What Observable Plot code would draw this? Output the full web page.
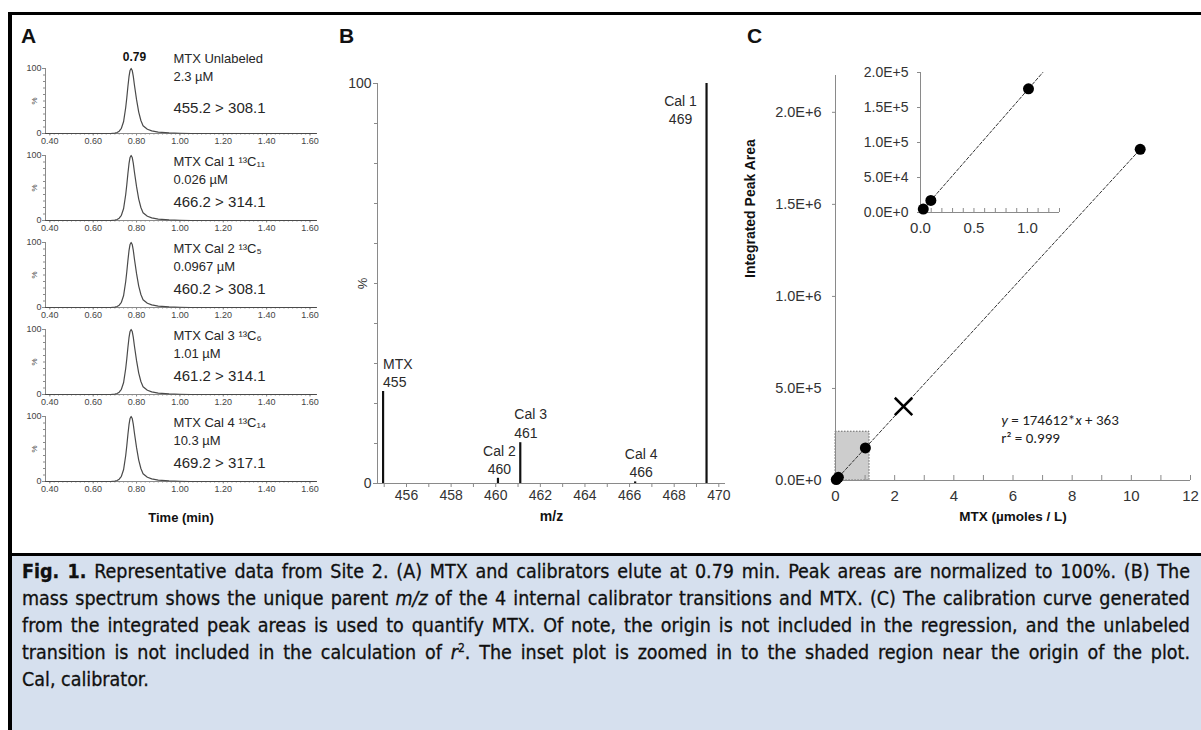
<!DOCTYPE html>
<html>
<head>
<meta charset="utf-8">
<script src="https://cdn.jsdelivr.net/npm/d3@7"></script>
<script src="https://cdn.jsdelivr.net/npm/@observablehq/plot@0.6"></script>
<style>
  html, body { margin: 0; padding: 0; background: #fff; }
  #fig { position: relative; width: 1201px; height: 730px; overflow: hidden; background: #fff; }
  .bar { position: absolute; background: #000; }
  .letter { position: absolute; font: bold 21px "Liberation Sans", Arial, sans-serif; line-height: 21px; color: #111; }
  #caption { position: absolute; left: 12px; top: 556px; width: 1189px; height: 174px; background: #d6e0ee; }
  #caption .line { position: absolute; left: 10px; font-family: "DejaVu Sans Condensed", "DejaVu Sans", sans-serif; font-stretch: condensed; font-size: 19.5px; color: #101010; white-space: nowrap; line-height: 27px; -webkit-text-stroke: 0.3px #101010; }
  #caption b { font-weight: bold; }
</style>
</head>
<body>
<div id="fig">
  <div class="bar" style="left:8px;top:12px;width:1193px;height:3px;"></div>
  <div class="bar" style="left:8px;top:12px;width:4px;height:718px;"></div>
  <div class="bar" style="left:8px;top:553px;width:1193px;height:3px;"></div>
  <div class="letter" style="left:21px;top:25px;">A</div>
  <div class="letter" style="left:339px;top:25px;">B</div>
  <div class="letter" style="left:747px;top:25px;">C</div>
  <div id="caption">
    <div class="line" style="top:2px;"><b>Fig. 1.</b> Representative data from Site 2. (A) MTX and calibrators elute at 0.79 min. Peak areas are normalized to 100%. (B) The</div>
    <div class="line" style="top:29px;">mass spectrum shows the unique parent <i>m/z</i> of the 4 internal calibrator transitions and MTX. (C) The calibration curve generated</div>
    <div class="line" style="top:56px;">from the integrated peak areas is used to quantify MTX. Of note, the origin is not included in the regression, and the unlabeled</div>
    <div class="line" style="top:83px;">transition is not included in the calculation of <i>r</i><sup style="font-size:12px;line-height:0;">2</sup>. The inset plot is zoomed in to the shaded region near the origin of the plot.</div>
    <div class="line last" style="top:110px;">Cal, calibrator.</div>
  </div>
</div>
<script>
// ================= DATA =================
// Panel A: chromatogram peak (relative intensity, %) vs retention time (min)
const chromTimes = [0.38, 0.68, 0.70, 0.71, 0.72, 0.73, 0.74, 0.75, 0.755, 0.76, 0.765, 0.77, 0.775, 0.78, 0.785, 0.79, 0.80, 0.81, 0.82, 0.83, 0.85, 0.87, 0.90, 0.95, 1.00, 1.05, 1.63];
const chromPct   = [0,    0,    0.5,  1.5,  3.5,  8,    18,   40,   55,    72,   87,    97,   100,   97,   88,    75,   52,   33,   20,   12,   6.5,  4,    2.2,  1,    0.4,  0,    0];
const chromNames = ["MTX Unlabeled", "MTX Cal 1 \u00B9\u00B3C\u2081\u2081", "MTX Cal 2 \u00B9\u00B3C\u2085", "MTX Cal 3 \u00B9\u00B3C\u2086", "MTX Cal 4 \u00B9\u00B3C\u2081\u2084"];
const chromConc = ["2.3 \u00B5M", "0.026 \u00B5M", "0.0967 \u00B5M", "1.01 \u00B5M", "10.3 \u00B5M"];
const chromTransitions = ["455.2 > 308.1", "466.2 > 314.1", "460.2 > 308.1", "461.2 > 314.1", "469.2 > 317.1"];
const apexTime = 0.79;
const timeTicks = [0.40, 0.60, 0.80, 1.00, 1.20, 1.40, 1.60];

// Panel B: mass spectrum (peak positions as drawn, relative intensity %)
const specNames = ["MTX", "Cal 2", "Cal 3", "Cal 4", "Cal 1"];
const specNominal = ["455", "460", "461", "466", "469"];
const specMz = [454.95, 460.1, 461.1, 466.25, 469.45];
const specPct = [23, 1.3, 10.2, 0.4, 100];
const mzTicks = [456, 458, 460, 462, 464, 466, 468, 470];

// Panel C: calibration curve
const calConc = [0.026, 0.0967, 1.01, 10.3];
const calArea = [4900, 17300, 176700, 1799000];
const unlabeledConc = [2.3];
const unlabeledArea = [402000];
const fitSlope = 174612;
const fitIntercept = 363;
const rSquared = 0.999;
const fitEnds = [0, 10.3];
const insetFitEnds = [0, 1.143];
const areaTicks = [0, 5e5, 1e6, 1.5e6, 2e6];
const concTicks = [0, 2, 4, 6, 8, 10, 12];
const insetAreaTicks = [0, 5e4, 1e5, 1.5e5, 2e5];
const insetConcTicks = [0, 0.5, 1.0];
const shadedConc = [0, 1.15];
const shadedArea = [0, 2.65e5];

// ================= STYLE / LAYOUT =================
const fig = document.getElementById("fig");
const axisGrey = "#8a8a8a";
const textDark = "#262626";
const sansFont = "'Liberation Sans', Arial, Helvetica, sans-serif";
const narrowFont = "'Liberation Sans Narrow', 'Arial Narrow', 'Liberation Sans', sans-serif";
const eqFont = "Carlito, Lato, 'Open Sans', sans-serif";
const svgStyle = {background: "transparent", overflow: "visible", fontFamily: sansFont, color: textDark, maxWidth: "none"};
const sci = d => d3.format(".1e")(d).replace("e", "E");

function place(svg, left, top) {
  svg.style.position = "absolute";
  svg.style.left = left + "px";
  svg.style.top = top + "px";
  svg.style.maxWidth = "none";
  fig.appendChild(svg);
  return svg;
}

// ================= PANEL A =================
const chromData = chromTimes.map((t, j) => ({t, p: chromPct[j]}));
const aTops = [68, 155, 242, 329, 416];
const aPlotH = 65, aMT = 40, aMB = 50;
const aXDomain = [0.38, 1.63];
const aLabelX = 0.97;
const aLabelDy = [[-10, 8, 40], [6, 24, 47], [6, 24, 47], [6, 24, 47], [6, 24, 47]];

chromNames.forEach((name, i) => {
  const marks = [
    Plot.ruleX([aXDomain[0]], {y1: 0, y2: 100, stroke: axisGrey}),
    Plot.ruleY([0], {x1: aXDomain[0], x2: aXDomain[1], stroke: axisGrey}),
    Plot.axisY({ticks: d3.range(10, 100, 10), tickSize: 2, fill: "none", stroke: axisGrey, label: null}),
    Plot.axisY({ticks: [0, 100], tickSize: 3, tickPadding: 1, fontSize: 9, fill: "#444", stroke: axisGrey, label: null, tickFormat: d => String(d)}),
    Plot.axisX({ticks: d3.range(0.40, 1.6001, 0.02), tickSize: 1.5, fill: "none", stroke: axisGrey, label: null}),
    Plot.axisX({ticks: timeTicks, tickSize: 2.5, tickPadding: 1.5, tickFormat: d3.format(".2f"), fontSize: 9, fontFamily: narrowFont, fill: "#444", stroke: axisGrey, label: null}),
    Plot.text(["%"], {x: aXDomain[0], y: 50, dx: -11, rotate: -90, fontSize: 8, fill: "#444"}),
    Plot.line(chromData, {x: "t", y: "p", stroke: "#4a4a4a", strokeWidth: 1.2}),
    Plot.text([name], {x: aLabelX, y: 100, dy: aLabelDy[i][0], textAnchor: "start", fontSize: 13, fill: textDark}),
    Plot.text([chromConc[i]], {x: aLabelX, y: 100, dy: aLabelDy[i][1], textAnchor: "start", fontSize: 13, fill: textDark}),
    Plot.text([chromTransitions[i]], {x: aLabelX, y: 100, dy: aLabelDy[i][2], textAnchor: "start", fontSize: 15, fill: textDark})
  ];
  if (i === 0) marks.push(Plot.text([apexTime.toFixed(2)], {x: apexTime, y: 100, dy: -11, fontWeight: "bold", fontSize: 12, fill: "#111"}));
  if (i === chromNames.length - 1) marks.push(Plot.text(["Time (min)"], {frameAnchor: "bottom", dy: 40, fontWeight: "bold", fontSize: 13, fontFamily: narrowFont, fill: "#111"}));
  const p = Plot.plot({
    width: 330, height: aMT + aPlotH + aMB,
    marginLeft: 45, marginRight: 14, marginTop: aMT, marginBottom: aMB,
    x: {domain: aXDomain, axis: null, label: null},
    y: {domain: [0, 100], axis: null, label: null},
    style: svgStyle,
    marks
  });
  place(p, 0, aTops[i] - aMT);
});

// ================= PANEL B =================
const specData = specMz.map((mz, j) => ({mz, pct: specPct[j], name: specNames[j], nominal: specNominal[j]}));
const bXDomain = [454.7, 470.3];
const specLabelLayout = {
  "MTX":   {textAnchor: "start",  dx: 0,   dy: -19.5},
  "Cal 2": {textAnchor: "middle", dx: 1.5, dy: -19},
  "Cal 3": {textAnchor: "start",  dx: -6,  dy: -20},
  "Cal 4": {textAnchor: "middle", dx: 6,   dy: -19.5},
  "Cal 1": {textAnchor: "middle", dx: -26, dy: 26}
};
const bMarks = [
  Plot.ruleX([bXDomain[0]], {y1: 0, y2: 100, stroke: axisGrey}),
  Plot.ruleY([0], {x1: bXDomain[0], x2: bXDomain[1], stroke: axisGrey}),
  Plot.axisY({ticks: d3.range(10, 100, 10), tickSize: 3, fill: "none", stroke: axisGrey, label: null}),
  Plot.axisY({ticks: [0, 100], tickSize: 4, tickPadding: 2, fontSize: 14, fill: "#333", stroke: axisGrey, label: null, tickFormat: d => String(d)}),
  Plot.axisX({ticks: d3.range(455, 471, 1), tickSize: 4, fill: "none", stroke: axisGrey, label: null}),
  Plot.axisX({ticks: mzTicks, tickSize: 0, tickPadding: 7, fontSize: 14, fill: "#333", label: null, tickFormat: d => String(d)}),
  Plot.text(["%"], {x: bXDomain[0], y: 50, dx: -15, rotate: -90, fontSize: 13, fill: "#333"}),
  Plot.ruleX(specData, {x: "mz", y1: 0, y2: "pct", stroke: "#111", strokeWidth: 2.2}),
  ...specData.map(d => Plot.text([d], {
    x: "mz", y: "pct", text: e => e.name + "\n" + e.nominal,
    lineHeight: 1.3, fontSize: 14, fill: "#2a2a2a",
    ...specLabelLayout[d.name]
  })),
  Plot.text(["m/z"], {frameAnchor: "bottom", dy: 37, fontWeight: "bold", fontSize: 14, fontFamily: narrowFont, fill: "#111"})
];
place(Plot.plot({
  width: 420, height: 473,
  marginLeft: 47, marginRight: 25, marginTop: 23, marginBottom: 50,
  x: {domain: bXDomain, axis: null, label: null},
  y: {domain: [0, 100], axis: null, label: null},
  style: svgStyle,
  marks: bMarks
}), 330, 60);

// ================= PANEL C (main) =================
const calData = calConc.map((c, j) => ({c, a: calArea[j]}));
const unlabData = unlabeledConc.map((c, j) => ({c, a: unlabeledArea[j]}));
const fitLine = fitEnds.map(c => ({c, a: fitSlope * c + fitIntercept}));
const insetFitLine = insetFitEnds.map(c => ({c, a: fitSlope * c + fitIntercept}));
const eqText = `y = ${fitSlope}*x + ${fitIntercept}`;
const r2Text = `r\u00B2 = ${rSquared}`;

const cMarks = [
  Plot.rect([{x1: shadedConc[0], x2: shadedConc[1], y1: shadedArea[0], y2: shadedArea[1]}], {x1: "x1", x2: "x2", y1: "y1", y2: "y2", fill: "#cdcdcd", stroke: "#666", strokeDasharray: "1.5,1.5", strokeWidth: 1}),
  Plot.ruleX([0], {y1: 0, y2: 2.2e6, stroke: axisGrey}),
  Plot.ruleY([0], {x1: 0, x2: 12, stroke: axisGrey}),
  Plot.axisY({ticks: areaTicks, tickSize: 3, tickPadding: 11, tickFormat: sci, fontSize: 14.5, fill: "#333", stroke: axisGrey, label: null}),
  Plot.axisX({ticks: d3.range(1, 13, 1), tickSize: -5, fill: "none", stroke: axisGrey, label: null}),
  Plot.axisX({ticks: concTicks, tickSize: 0, tickPadding: 10, fontSize: 15, fill: "#333", label: null, tickFormat: d => String(d)}),
  Plot.line(fitLine, {x: "c", y: "a", stroke: "#333", strokeDasharray: "3,2", strokeWidth: 1}),
  Plot.dot(calData, {x: "c", y: "a", r: 5.5, fill: "#000"}),
  Plot.dot(unlabData, {x: "c", y: "a", symbol: "times", r: 8, stroke: "#000", strokeWidth: 2.5}),
  Plot.text([eqText], {x: 5.6, y: 3.26e5, textAnchor: "start", fontSize: 15, fontFamily: eqFont, fill: "#222"}),
  Plot.text([r2Text], {x: 5.6, y: 2.28e5, textAnchor: "start", fontSize: 15, fontFamily: eqFont, fill: "#222"}),
  Plot.text(["Integrated Peak Area"], {frameAnchor: "left", dx: -85, rotate: -90, fontWeight: "bold", fontSize: 14, fill: "#111"}),
  Plot.text(["MTX (\u00B5moles / L)"], {frameAnchor: "bottom", dy: 40, fontWeight: "bold", fontSize: 13.5, fontFamily: narrowFont, fill: "#111"})
];
const svgC = place(Plot.plot({
  width: 471, height: 475,
  marginLeft: 105, marginRight: 11, marginTop: 20, marginBottom: 50,
  x: {domain: [0, 12], axis: null, label: null},
  y: {domain: [0, 2.2e6], axis: null, label: null},
  style: svgStyle,
  marks: cMarks
}), 730, 55);

// italic y and x in the equation
svgC.querySelectorAll("text").forEach(t => {
  if (t.textContent === eqText) {
    t.textContent = "";
    const parts = [["y", true], [" = " + fitSlope + "*", false], ["x", true], [" + " + fitIntercept, false]];
    parts.forEach(([s, it]) => {
      const ts = document.createElementNS("http://www.w3.org/2000/svg", "tspan");
      ts.textContent = s;
      if (it) ts.setAttribute("font-style", "italic");
      t.appendChild(ts);
    });
  }
});

// ================= PANEL C (inset) =================
const insetMarks = [
  Plot.ruleX([0], {y1: 0, y2: 2e5, stroke: axisGrey}),
  Plot.ruleY([0], {x1: 0, x2: 1.3, stroke: axisGrey}),
  Plot.axisY({ticks: insetAreaTicks, tickSize: 3, tickPadding: 9, tickFormat: sci, fontSize: 14, fill: "#333", stroke: axisGrey, label: null}),
  Plot.axisX({ticks: d3.range(0.1, 1.31, 0.1), tickSize: -4, fill: "none", stroke: axisGrey, label: null}),
  Plot.axisX({ticks: insetConcTicks, tickSize: 0, tickPadding: 10, fontSize: 15, fill: "#333", label: null, tickFormat: d3.format(".1f")}),
  Plot.line(insetFitLine, {x: "c", y: "a", stroke: "#333", strokeDasharray: "3,2", strokeWidth: 1}),
  Plot.dot(calData.filter(d => d.c <= 1.3), {x: "c", y: "a", r: 5.5, fill: "#000"})
];
place(Plot.plot({
  width: 230, height: 187,
  marginLeft: 80, marginRight: 11, marginTop: 17, marginBottom: 30,
  x: {domain: [0, 1.3], axis: null, label: null},
  y: {domain: [0, 2e5], axis: null, label: null},
  style: svgStyle,
  marks: insetMarks
}), 840, 55);

// ================= CAPTION sizing + justification =================
const captionWidth = 1168;
const capLines = [...document.querySelectorAll("#caption .line")];
const maxNatural = Math.max(...capLines.map(el => el.getBoundingClientRect().width));
if (maxNatural > captionWidth - 12) {
  const fs = 19.5 * (captionWidth - 12) / maxNatural;
  capLines.forEach(el => el.style.fontSize = fs + "px");
}
capLines.forEach(el => {
  if (el.classList.contains("last")) return;
  const natural = el.getBoundingClientRect().width;
  const spaces = (el.textContent.match(/ /g) || []).length;
  if (spaces > 0) el.style.wordSpacing = ((captionWidth - natural) / spaces) + "px";
});
</script>
</body>
</html>
